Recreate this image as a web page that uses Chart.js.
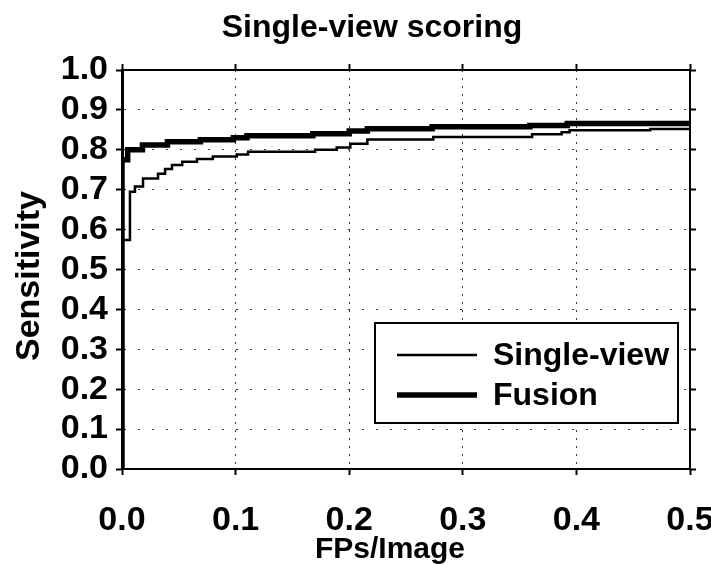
<!DOCTYPE html>
<html>
<head>
<meta charset="utf-8">
<script src="https://cdn.jsdelivr.net/npm/chart.js@4.4.0/dist/chart.umd.min.js"></script>
<style>
html, body { margin: 0; padding: 0; background: #fff; }
</style>
</head>
<body>
<canvas id="mycanvas" width="711" height="564"></canvas>
<script>
// values
var singleFp   = [0, 0, 0.007, 0.0114, 0.0185, 0.0317, 0.0379, 0.044, 0.053, 0.066, 0.080, 0.101, 0.111, 0.170, 0.189, 0.201, 0.216, 0.274, 0.361, 0.387, 0.394, 0.465, 0.5];
var singleSens = [0, 0.574, 0.695, 0.708, 0.728, 0.740, 0.752, 0.762, 0.770, 0.777, 0.783, 0.788, 0.795, 0.800, 0.806, 0.815, 0.826, 0.832, 0.839, 0.844, 0.849, 0.852, 0.852];

var fusionFp   = [0, 0, 0.005, 0.018, 0.040, 0.069, 0.098, 0.110, 0.168, 0.200, 0.216, 0.273, 0.359, 0.392, 0.5];
var fusionSens = [0, 0.775, 0.800, 0.812, 0.820, 0.825, 0.830, 0.835, 0.840, 0.847, 0.853, 0.858, 0.861, 0.866, 0.866];

var xTicks = [0, 0.1, 0.2, 0.3, 0.4, 0.5];
var yTicks = [0, 0.1, 0.2, 0.3, 0.4, 0.5, 0.6, 0.7, 0.8, 0.9, 1.0];

var seriesNames = ['Single-view', 'Fusion'];
var chartTitle = 'Single-view scoring';
var xTitle = 'FPs/Image';
var yTitle = 'Sensitivity';

var FONT = "'Liberation Sans', Arial, sans-serif";

function toPoints(xs, ys) {
    var pts = [];
    for (var i = 0; i < xs.length; i++) {
        pts.push({x: xs[i], y: ys[i]});
    }
    return pts;
}

function setTicks(list) {
    return function(scale) {
        scale.ticks = list.map(function(v) { return {value: v}; });
    };
}

// fixed box sizes so the plot area lands where it is in the picture
function fixSize(w, h) {
    return function(s) {
        if (w !== null) s.width = w;
        if (h !== null) s.height = h;
        s.paddingLeft = 0;
        s.paddingRight = 0;
        s.paddingTop = 0;
        s.paddingBottom = 0;
    };
}

// titles sit a little off-centre in the original, so they are placed by hand
var figureText = {
    id: 'figureText',
    afterDraw: function(chart) {
        var ctx = chart.ctx;
        ctx.save();
        ctx.fillStyle = '#000';
        ctx.textAlign = 'center';
        ctx.textBaseline = 'alphabetic';
        ctx.font = 'bold 32px ' + FONT;
        ctx.fillText(chartTitle, 372, 37);
        ctx.font = 'bold 30px ' + FONT;
        ctx.fillText(xTitle, 390, 558);
        ctx.translate(39, 276);
        ctx.rotate(-Math.PI / 2);
        ctx.font = 'bold 34px ' + FONT;
        ctx.fillText(yTitle, 0, 0);
        ctx.restore();
    }
};

var boxLegend = {
    id: 'boxLegend',
    afterDatasetsDraw: function(chart) {
        var ctx = chart.ctx;
        var left = 375, top = 323, right = 678, bottom = 423;
        ctx.save();
        ctx.fillStyle = '#fff';
        ctx.fillRect(left, top, right - left, bottom - top);
        ctx.lineWidth = 2;
        ctx.strokeStyle = '#000';
        ctx.strokeRect(left, top, right - left, bottom - top);
        ctx.font = 'bold 32px ' + FONT;
        ctx.textBaseline = 'middle';
        ctx.fillStyle = '#000';
        var rows = [355, 395];
        chart.data.datasets.forEach(function(ds, i) {
            ctx.lineWidth = ds.borderWidth;
            ctx.beginPath();
            ctx.moveTo(397, rows[i]);
            ctx.lineTo(477, rows[i]);
            ctx.stroke();
            ctx.fillText(ds.label, 493, rows[i] + 1);
        });
        ctx.restore();
    }
};

var ctx = document.getElementById('mycanvas');

var chart = new Chart(ctx, {
    type: 'line',
    data: {
        datasets: [
            {
                label: seriesNames[0],
                data: toPoints(singleFp, singleSens),
                borderColor: '#000',
                borderWidth: 2.5,
                pointRadius: 0,
                stepped: true,
                fill: false
            },
            {
                label: seriesNames[1],
                data: toPoints(fusionFp, fusionSens),
                borderColor: '#000',
                borderWidth: 5.5,
                pointRadius: 0,
                stepped: true,
                fill: false
            }
        ]
    },
    options: {
        responsive: false,
        animation: false,
        layout: { padding: 0 },
        plugins: {
            legend: { display: false },
            tooltip: { enabled: false },
            title: { display: false }
        },
        scales: {
            x: {
                type: 'linear',
                position: 'bottom',
                min: 0,
                max: 0.5,
                afterBuildTicks: setTicks(xTicks),
                afterFit: fixSize(null, 95),
                ticks: {
                    color: '#000',
                    padding: 25,
                    autoSkip: false,
                    maxRotation: 0,
                    font: { family: FONT, size: 34, weight: 'bold' },
                    callback: function(v) { return v.toFixed(1); }
                },
                grid: {
                    color: '#333',
                    lineWidth: 1,
                    tickLength: 6,
                    tickColor: '#000',
                    tickWidth: 2,
                    tickBorderDash: []
                },
                border: { color: '#000', width: 2, dash: [2, 6] }
            },
            x2: {
                type: 'linear',
                position: 'top',
                min: 0,
                max: 0.5,
                afterBuildTicks: setTicks(xTicks),
                afterFit: fixSize(null, 70),
                ticks: { display: false },
                grid: {
                    drawOnChartArea: false,
                    tickLength: 6,
                    tickColor: '#000',
                    tickWidth: 2
                },
                border: { color: '#000', width: 2 }
            },
            y: {
                type: 'linear',
                position: 'left',
                min: 0,
                max: 1,
                afterBuildTicks: setTicks(yTicks),
                afterFit: fixSize(122, null),
                ticks: {
                    color: '#000',
                    padding: 8,
                    autoSkip: false,
                    font: { family: FONT, size: 34, weight: 'bold' },
                    callback: function(v) { return v.toFixed(1); }
                },
                grid: {
                    color: '#333',
                    lineWidth: 1,
                    tickLength: 6,
                    tickColor: '#000',
                    tickWidth: 2,
                    tickBorderDash: []
                },
                border: { color: '#000', width: 3, dash: [2, 12] }
            },
            y2: {
                type: 'linear',
                position: 'right',
                min: 0,
                max: 1,
                afterBuildTicks: setTicks(yTicks),
                afterFit: fixSize(21, null),
                ticks: { display: false },
                grid: {
                    drawOnChartArea: false,
                    tickLength: 6,
                    tickColor: '#000',
                    tickWidth: 2
                },
                border: { color: '#000', width: 2 }
            }
        }
    },
    plugins: [boxLegend, figureText]
});
</script>
</body>
</html>
